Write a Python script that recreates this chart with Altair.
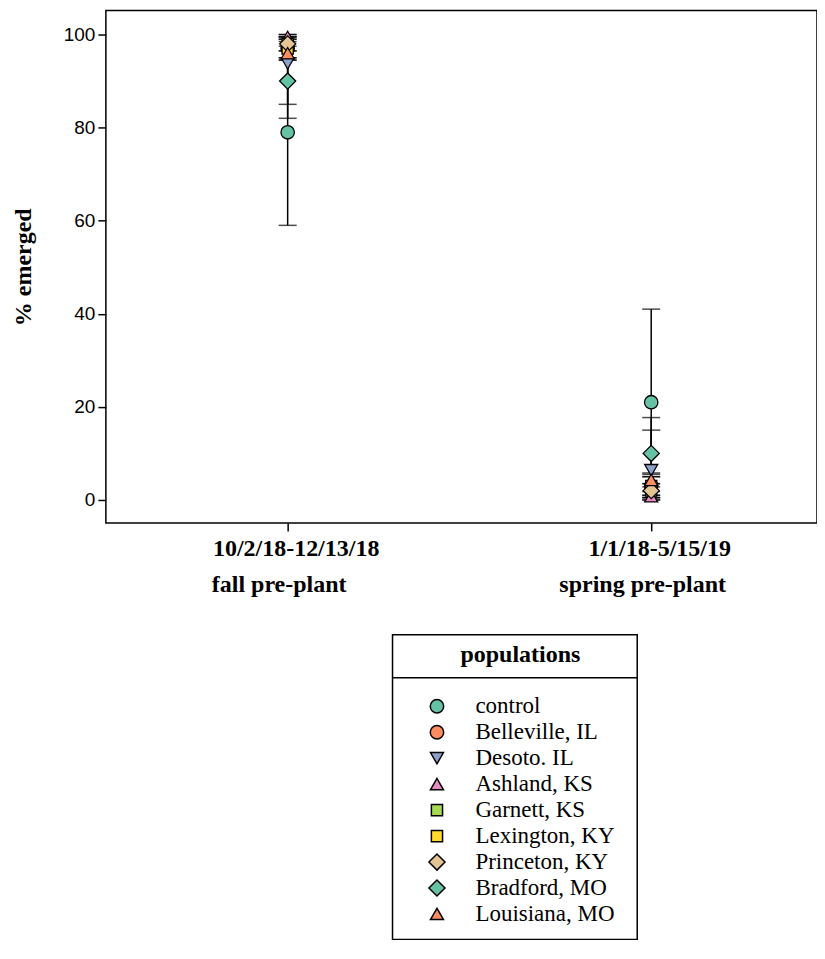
import altair as alt
import pandas as pd

populations = ["control", "Belleville, IL", "Desoto. IL", "Ashland, KS", "Garnett, KS",
               "Lexington, KY", "Princeton, KY", "Bradford, MO", "Louisiana, MO"]
colors = ["#66c2a5", "#fc8d62", "#8da0cb", "#e78ac3", "#a6d854",
          "#ffd92f", "#e5c494", "#66c2a5", "#fc8d62"]
shapes = ["circle", "circle", "triangle-down", "triangle-up", "square",
          "square", "diamond", "diamond", "triangle-up"]
marker_sizes = [180, 180, 170, 170, 125, 125, 260, 260, 170]

periods = [1, 2]
period_line1 = ["10/2/18-12/13/18", "1/1/18-5/15/19"]
period_line2 = ["fall pre-plant", "spring pre-plant"]

fall_mean = [79, 97, 93.8, 99.5, 98, 97, 98, 90, 96]
fall_err = [20, 2, 11.8, 1, 1.5, 2.5, 1.5, 5, 1.5]
spring_mean = [21, 3, 6.4, 0.8, 2, 3, 2, 10, 4.3]
spring_err = [20, 2, 11.3, 1, 1.5, 2.5, 1.5, 5, 1.5]

y_ticks = [0, 20, 40, 60, 80, 100]

rows = []
for period, means, errs in [(1, fall_mean, fall_err), (2, spring_mean, spring_err)]:
    for i, (p, m, e) in enumerate(zip(populations, means, errs)):
        rows.append({"population": p, "period": period, "mean": m,
                     "lo": max(0, m - e), "hi": min(100, m + e), "idx": i})
df = pd.DataFrame(rows)

expr1 = "datum.value == 1 ? '%s' : '%s'" % (period_line1[0], period_line1[1])
expr2 = "datum.value == 1 ? '%s' : '%s'" % (period_line2[0], period_line2[1])

xscale = alt.Scale(domain=[0.5, 2.456], nice=False, zero=False)
yscale = alt.Scale(domain=[-4.94, 105.15], nice=False, zero=False)

lab = dict(labelFont="Liberation Serif", labelFontSize=24, labelFontWeight="bold",
           labelColor="black", title=None, grid=False, domain=False, values=periods,
           orient="bottom")
axis_line1 = alt.Axis(labelExpr=expr1, tickSize=8, tickColor="black", tickWidth=1.5,
                      labelPadding=6, labelOffset=8, **lab)
axis_line2 = alt.Axis(labelExpr=expr2, ticks=False, tickSize=0, labelPadding=50,
                      labelOffset=-9, **lab)

base = alt.Chart(df)

rules = base.mark_rule(color="black", strokeWidth=1.5).encode(
    x=alt.X("period:Q", scale=xscale, axis=axis_line1),
    y=alt.Y("lo:Q", scale=yscale,
            axis=alt.Axis(values=y_ticks, title="% emerged", grid=False, domain=False,
                          tickSize=8, tickColor="black", tickWidth=1.5,
                          labelFont="Liberation Sans", labelFontSize=19, labelColor="black",
                          labelPadding=3,
                          titleFont="Liberation Serif", titleFontSize=24,
                          titleFontWeight="bold", titleColor="black", titlePadding=28)),
    y2="hi:Q",
)

caps_lo = base.mark_tick(orient="horizontal", size=18, thickness=1.5, color="black").encode(
    x=alt.X("period:Q", scale=xscale, axis=axis_line2),
    y=alt.Y("lo:Q", scale=yscale))
caps_hi = base.mark_tick(orient="horizontal", size=18, thickness=1.5, color="black").encode(
    x=alt.X("period:Q", scale=xscale, axis=None), y=alt.Y("hi:Q", scale=yscale))

legend = alt.Legend(orient="none", legendX=320, legendY=633, title="populations",
                    titleFont="Liberation Serif", titleFontSize=24, titleFontWeight="bold",
                    titleColor="black", titleAnchor="middle", titlePadding=28,
                    labelFont="Liberation Serif", labelFontSize=23, labelColor="black",
                    labelOffset=27, symbolStrokeColor="black",
                    symbolStrokeWidth=1.5, rowPadding=2, padding=0, labelLimit=300)

points = base.mark_point(filled=True, stroke="black", strokeWidth=1.3,
                         opacity=1).encode(
    x=alt.X("period:Q", scale=xscale, axis=None),
    y=alt.Y("mean:Q", scale=yscale),
    color=alt.Color("population:N", scale=alt.Scale(domain=populations, range=colors),
                    legend=legend),
    shape=alt.Shape("population:N", scale=alt.Scale(domain=populations, range=shapes),
                    legend=legend),
    size=alt.Size("population:N",
                  scale=alt.Scale(type="ordinal", domain=populations, range=marker_sizes),
                  legend=legend),
    order=alt.Order("idx:Q"),
)

deco = pd.DataFrame({"a": [0]})
box = alt.Chart(deco).mark_rect(fill=None, stroke="black", strokeWidth=1.5).encode(
    x=alt.value(287), x2=alt.value(532), y=alt.value(625), y2=alt.value(930))
sep = alt.Chart(deco).mark_rule(color="black", strokeWidth=1.5).encode(
    x=alt.value(287), x2=alt.value(532), y=alt.value(668))

chart = alt.layer(rules, caps_lo, caps_hi, points, box, sep).resolve_axis(
    x="independent"
).properties(
    width=712, height=513,
    padding={"left": 98, "top": 2, "right": 0, "bottom": 417},
    autosize="none",
).configure_view(stroke="black", strokeWidth=1.5)

chart.save("out.html", embed_options={"renderer": "svg", "actions": False})
